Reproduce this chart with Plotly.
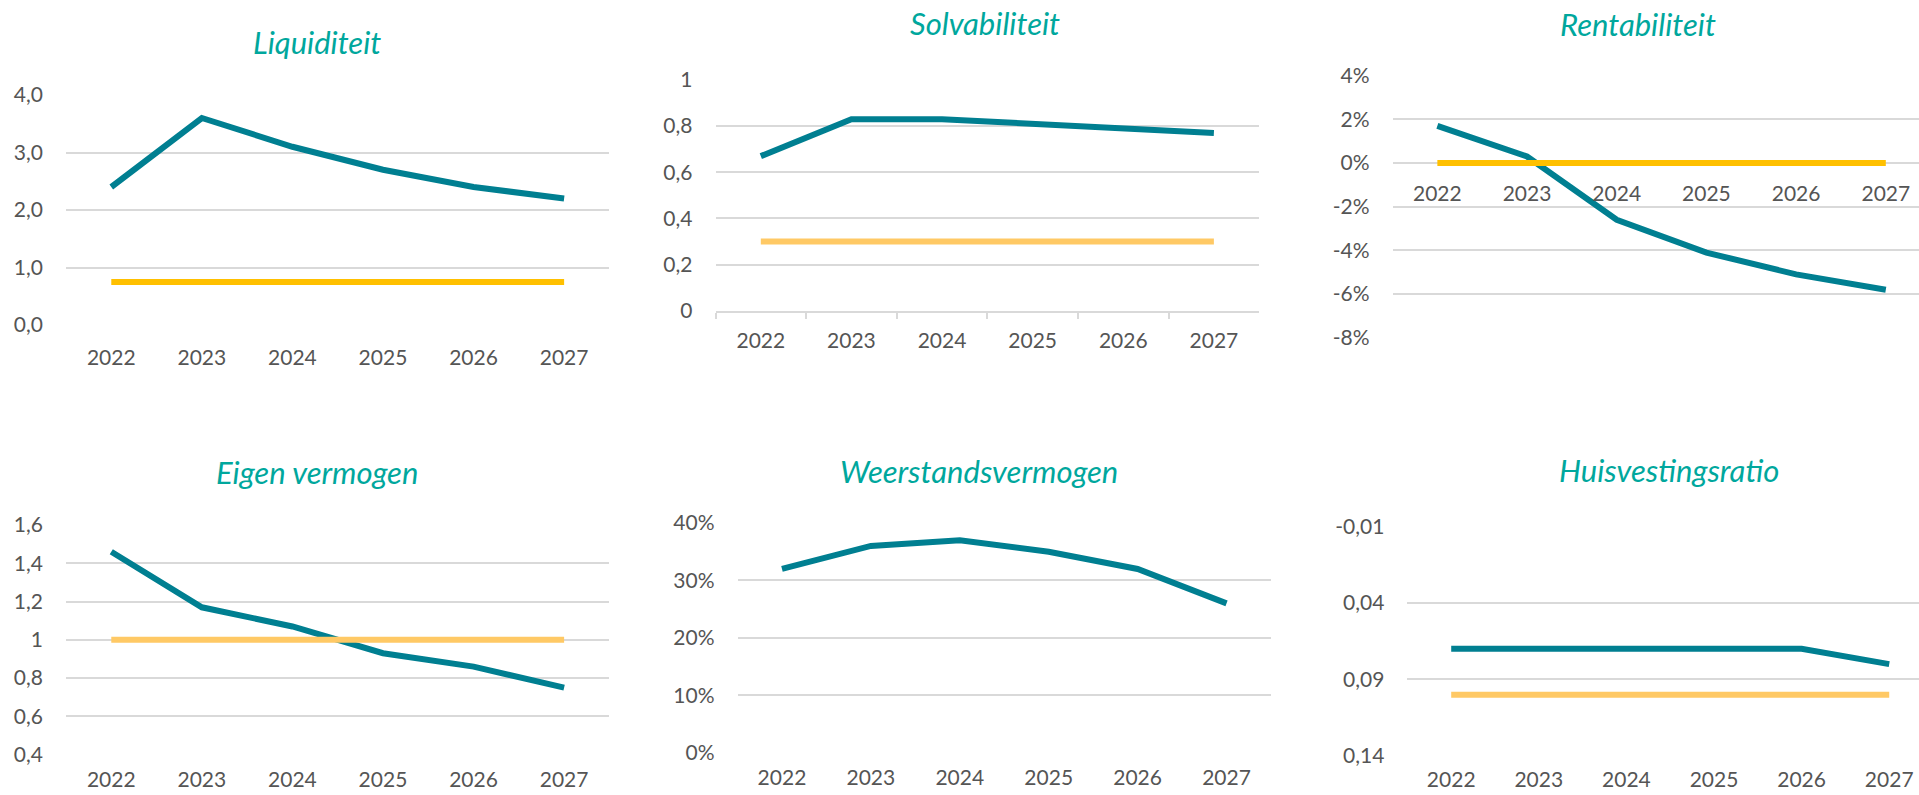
import plotly.graph_objects as go

W, H = 1919, 795

years = ["2022", "2023", "2024", "2025", "2026", "2027"]

liquiditeit = [2.4, 3.6, 3.1, 2.7, 2.4, 2.2]
liquiditeit_norm = [0.75, 0.75, 0.75, 0.75, 0.75, 0.75]

solvabiliteit = [0.67, 0.83, 0.83, 0.81, 0.79, 0.77]
solvabiliteit_norm = [0.3, 0.3, 0.3, 0.3, 0.3, 0.3]

rentabiliteit = [0.017, 0.003, -0.026, -0.041, -0.051, -0.058]
rentabiliteit_norm = [0.0, 0.0, 0.0, 0.0, 0.0, 0.0]

eigen_vermogen = [1.46, 1.17, 1.07, 0.93, 0.86, 0.75]
eigen_vermogen_norm = [1.0, 1.0, 1.0, 1.0, 1.0, 1.0]

weerstandsvermogen = [0.32, 0.36, 0.37, 0.35, 0.32, 0.26]

huisvestingsratio = [0.07, 0.07, 0.07, 0.07, 0.07, 0.08]
huisvestingsratio_norm = [0.10, 0.10, 0.10, 0.10, 0.10, 0.10]

titles = ["Liquiditeit", "Solvabiliteit", "Rentabiliteit",
          "Eigen vermogen", "Weerstandsvermogen", "Huisvestingsratio"]

ticks_liq = [0, 1, 2, 3, 4]
labels_liq = ["0,0", "1,0", "2,0", "3,0", "4,0"]
ticks_solv = [0, 0.2, 0.4, 0.6, 0.8, 1.0]
labels_solv = ["0", "0,2", "0,4", "0,6", "0,8", "1"]
ticks_rent = [-0.08, -0.06, -0.04, -0.02, 0.0, 0.02, 0.04]
labels_rent = ["-8%", "-6%", "-4%", "-2%", "0%", "2%", "4%"]
ticks_eigen = [0.4, 0.6, 0.8, 1.0, 1.2, 1.4, 1.6]
labels_eigen = ["0,4", "0,6", "0,8", "1", "1,2", "1,4", "1,6"]
ticks_weer = [0, 0.1, 0.2, 0.3, 0.4]
labels_weer = ["0%", "10%", "20%", "30%", "40%"]
ticks_huis = [-0.01, 0.04, 0.09, 0.14]
labels_huis = ["-0,01", "0,04", "0,09", "0,14"]

BLUE = "#007F91"
GOLD = "#FFC000"
LIGHT_GOLD = "#FFC965"
GRID = "#D9D9D9"
TXT = "#555555"
TITLE = "#00A79D"
FONT = "Lato"

panels = [
    dict(l=66, r=609.4, t=95, b=325, xmax=5.5, yr=[0, 4], tc=(317, 42), so=18,
         vals=ticks_liq, txt=labels_liq, s=[(liquiditeit, BLUE), (liquiditeit_norm, GOLD)]),
    dict(l=715.5, r=1259.2, t=80, b=310.7, xmax=5.5, yr=[0, 1], tc=(985, 23), so=10,
         vals=ticks_solv, txt=labels_solv, s=[(solvabiliteit, BLUE), (solvabiliteit_norm, LIGHT_GOLD)],
         axisline=True),
    dict(l=1392.5, r=W, t=75.7, b=337.7, xmax=5.37, yr=[-0.08, 0.04], tc=(1638, 24), so=16,
         vals=ticks_rent, txt=labels_rent, s=[(rentabiliteit, BLUE), (rentabiliteit_norm, GOLD)],
         cross0=True),
    dict(l=66, r=609.4, t=525, b=754.7, xmax=5.5, yr=[0.4, 1.6], tc=(317, 472), so=10,
         vals=ticks_eigen, txt=labels_eigen, s=[(eigen_vermogen, BLUE), (eigen_vermogen_norm, LIGHT_GOLD)]),
    dict(l=737.5, r=1271, t=523, b=752.7, xmax=5.5, yr=[0, 0.4], tc=(979, 471), so=10,
         vals=ticks_weer, txt=labels_weer, s=[(weerstandsvermogen, BLUE)]),
    dict(l=1407.4, r=W, t=526.3, b=756, xmax=5.34, yr=[0.14, -0.01], tc=(1669, 470), so=9,
         vals=ticks_huis, txt=labels_huis, s=[(huisvestingsratio, BLUE), (huisvestingsratio_norm, LIGHT_GOLD)]),
]

fig = go.Figure()
layout = dict(
    width=W, height=H, margin=dict(l=0, r=0, t=0, b=0, autoexpand=False),
    paper_bgcolor="white", plot_bgcolor="white", showlegend=False,
    separators=",.", font=dict(family=FONT, color=TXT, size=21),
    annotations=[],
)

for i, p in enumerate(panels):
    n = "" if i == 0 else str(i + 1)
    xa, ya = "x" + n, "y" + n
    for data, col in p["s"]:
        fig.add_trace(go.Scatter(x=years, y=data, mode="lines", xaxis=xa, yaxis=ya,
                                 line=dict(color=col, width=6), hoverinfo="skip"))
    dx = [p["l"] / W, min(p["r"] / W, 1.0)]
    dy = [1 - p["b"] / H, 1 - p["t"] / H]
    xaxis = dict(domain=dx, range=[-0.5, p["xmax"]], type="category", anchor=ya,
                 showgrid=False, zeroline=False, showline=False, ticks="",
                 automargin=False,
                 tickfont=dict(size=21, color=TXT, family=FONT), ticklabelstandoff=p["so"],
                 fixedrange=True)
    if p.get("axisline"):
        xaxis.update(showline=True, linecolor=GRID, linewidth=2, ticks="outside",
                     tickson="boundaries", ticklen=6, tickcolor=GRID, tickwidth=2)
    if p.get("cross0"):
        lo, hi = p["yr"]
        frac = (0 - lo) / (hi - lo)
        xaxis.update(anchor="free", position=dy[0] + frac * (dy[1] - dy[0]))
    yaxis = dict(domain=dy, range=p["yr"], anchor=xa, showgrid=True, gridcolor=GRID,
                 gridwidth=2, zeroline=False, showline=False, ticks="",
                 automargin=False,
                 tickmode="array", tickvals=p["vals"], ticktext=p["txt"],
                 tickfont=dict(size=21, color=TXT, family=FONT), ticklabelstandoff=22,
                 fixedrange=True)
    layout["xaxis" + n] = xaxis
    layout["yaxis" + n] = yaxis
    layout["annotations"].append(dict(
        text="<i>" + titles[i] + "</i>", xref="paper", yref="paper",
        x=p["tc"][0] / W, y=1 - p["tc"][1] / H, xanchor="center", yanchor="middle",
        showarrow=False, font=dict(family=FONT, size=31, color=TITLE, style="italic")))

fig.update_layout(**layout)
fig.write_html("out.html", config={"displayModeBar": False},
               post_script="document.body.style.margin='0';document.body.style.overflow='hidden';")
